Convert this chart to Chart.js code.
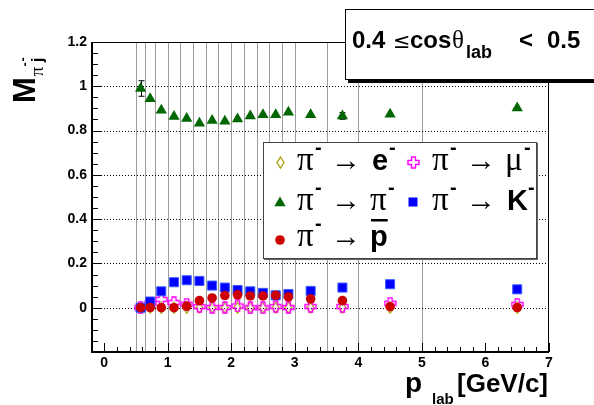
<!DOCTYPE html>
<html>
<head>
<meta charset="utf-8">
<script src="https://cdn.jsdelivr.net/npm/chart.js@4.4.0/dist/chart.umd.min.js"></script>
<style>
html, body { margin: 0; padding: 0; background: #fff; }
#wrap { width: 594px; height: 405px; position: relative; }
</style>
</head>
<body>
<div id="wrap"><canvas id="chart" width="594" height="405"></canvas></div>
<script>
// Bin centres of p_lab [GeV/c] and the bin edges drawn as grey lines
const pLab = [0.575, 0.725, 0.9, 1.1, 1.3, 1.5, 1.7, 1.9, 2.1, 2.3, 2.5, 2.7, 2.9, 3.25, 3.75, 4.5, 6.5];
const binEdges = [0.5, 0.65, 0.8, 1.0, 1.2, 1.4, 1.6, 1.8, 2.0, 2.2, 2.4, 2.6, 2.8, 3.0, 3.5, 4.0, 5.0, 8.0];

// M(pi- -> j) values
const toElectron = [0, 0, 0, 0, 0, 0, 0, 0, 0, 0, 0, 0, 0, 0, 0, 0, 0];
const toMuon     = [0, 0.02, 0.038, 0.023, 0.016, 0.005, 0.001, 0.001, 0.008, 0, 0, 0.005, 0.001, 0.005, 0.005, 0.02, 0.015];
const toPion     = [0.99, 0.944, 0.892, 0.863, 0.855, 0.833, 0.846, 0.842, 0.852, 0.866, 0.872, 0.872, 0.883, 0.872, 0.866, 0.874, 0.902];
const toPionErr  = [0.035, 0, 0, 0, 0, 0, 0, 0, 0, 0, 0, 0, 0, 0, 0.015, 0, 0];
const toKaon     = [0, 0.028, 0.074, 0.115, 0.124, 0.121, 0.10, 0.091, 0.080, 0.074, 0.067, 0.056, 0.062, 0.076, 0.091, 0.106, 0.083];
const toPbar     = [0, 0.001, 0, 0, 0.007, 0.032, 0.044, 0.055, 0.058, 0.053, 0.053, 0.056, 0.049, 0.040, 0.032, 0.005, 0.001];

const xTicks = [0, 1, 2, 3, 4, 5, 6, 7];
const yTicks = [0, 0.2, 0.4, 0.6, 0.8, 1.0, 1.2];

const COL_E = '#a89f00', COL_MU = '#ff00ff', COL_PI = '#006600', COL_K = '#0000ff', COL_PBAR = '#cc0000';
const SANS = '"Liberation Sans", Arial, sans-serif';
const SERIF = '"Liberation Serif", "DejaVu Serif", serif';

// open marker images (ROOT style open cross / open diamond)
function makeCross() {
    const c = document.createElement('canvas');
    c.width = 13; c.height = 13;
    const g = c.getContext('2d');
    const m = 6.5, a = 2, L = 5.5;
    g.strokeStyle = COL_MU; g.lineWidth = 1.4;
    g.beginPath();
    [[m-a,m-L],[m+a,m-L],[m+a,m-a],[m+L,m-a],[m+L,m+a],[m+a,m+a],[m+a,m+L],[m-a,m+L],[m-a,m+a],[m-L,m+a],[m-L,m-a],[m-a,m-a]]
        .forEach((p, i) => i ? g.lineTo(p[0], p[1]) : g.moveTo(p[0], p[1]));
    g.closePath(); g.stroke();
    return c;
}
function makeDiamond() {
    const c = document.createElement('canvas');
    c.width = 9; c.height = 13;
    const g = c.getContext('2d');
    g.strokeStyle = COL_E; g.lineWidth = 1.3;
    g.beginPath();
    g.moveTo(4.5, 1); g.lineTo(8, 6.5); g.lineTo(4.5, 12); g.lineTo(1, 6.5); g.closePath();
    g.stroke();
    return c;
}
const crossImg = makeCross();
const diamondImg = makeDiamond();

function pts(vals) {
    return pLab.map((x, i) => ({ x: x, y: vals[i] }));
}

// draws text pieces (sub/superscripts); 'at' = fixed x offset, 'w' = stretch to width
function rich(ctx, x, y, parts, angle) {
    ctx.save();
    ctx.translate(x, y);
    if (angle) ctx.rotate(angle);
    let cx = 0;
    ctx.textBaseline = 'alphabetic';
    ctx.textAlign = 'left';
    ctx.fillStyle = '#000';
    parts.forEach(p => {
        ctx.font = p.f;
        if (p.at !== undefined) cx = p.at;
        cx += p.pre || 0;
        let w = ctx.measureText(p.t).width;
        if (p.w) {
            ctx.save();
            ctx.translate(cx, 0);
            ctx.scale(p.w / w, 1);
            ctx.fillText(p.t, 0, p.dy || 0);
            ctx.restore();
            w = p.w;
        } else {
            ctx.fillText(p.t, cx, p.dy || 0);
        }
        if (p.ov) {
            ctx.fillRect(cx + 1, (p.dy || 0) + p.ov, w - 1, 2.5);
        }
        cx += w + (p.gap || 0);
    });
    ctx.restore();
}

function marker(ctx, kind, x, y) {
    ctx.save();
    if (kind === 'triangle') {
        const r = 6.5;
        ctx.fillStyle = COL_PI;
        ctx.beginPath();
        ctx.moveTo(x, y - r);
        ctx.lineTo(x + r * 0.866, y + r * 0.5);
        ctx.lineTo(x - r * 0.866, y + r * 0.5);
        ctx.closePath(); ctx.fill();
    } else if (kind === 'square') {
        ctx.fillStyle = COL_K;
        ctx.fillRect(x - 4.5, y - 4.5, 9, 9);
    } else if (kind === 'circle') {
        ctx.fillStyle = COL_PBAR;
        ctx.beginPath(); ctx.arc(x, y, 4.8, 0, Math.PI * 2); ctx.fill();
    } else {
        const img = kind === 'cross' ? crossImg : diamondImg;
        ctx.drawImage(img, Math.round(x - img.width / 2), Math.round(y - img.height / 2));
    }
    ctx.restore();
}

const F_PI = '33px ' + SERIF;
const F_B = 'bold 29px ' + SANS;
const F_SUP = 'bold 20px ' + SANS;
const F_AR = '30px ' + SERIF;

function piTo(target) {
    return [
        { t: 'π', f: F_PI, at: 0 },
        { t: '-', f: F_SUP, dy: -16, at: 18 },
        { t: '→', f: F_AR, at: 34, w: 30 }
    ].concat(target);
}

const legendEntries = [
    { kind: 'diamond', x: 280, y: 162, tx: 297, ty: 170, parts: piTo([{ t: 'e', f: F_B, at: 75 }, { t: '-', f: F_SUP, dy: -16, at: 92 }]) },
    { kind: 'cross',   x: 413, y: 162, tx: 432, ty: 170, parts: piTo([{ t: 'μ', f: F_PI, at: 73 }, { t: '-', f: F_SUP, dy: -16, at: 92 }]) },
    { kind: 'triangle', x: 280, y: 203, tx: 297, ty: 210, parts: piTo([{ t: 'π', f: F_PI, at: 73 }, { t: '-', f: F_SUP, dy: -16, at: 91 }]) },
    { kind: 'square',  x: 413, y: 202, tx: 432, ty: 210, parts: piTo([{ t: 'K', f: F_B, at: 75 }, { t: '-', f: F_SUP, dy: -16, at: 96 }]) },
    { kind: 'circle',  x: 280, y: 240, tx: 297, ty: 246, parts: piTo([{ t: 'p', f: F_B, at: 73, ov: -27 }]) }
];

const rootLook = {
    id: 'rootLook',
    beforeDatasetsDraw(chart) {
        const { ctx, chartArea: a, scales: { x, y } } = chart;
        ctx.save();
        // bin edge lines
        ctx.strokeStyle = '#9c9c9c';
        ctx.lineWidth = 1;
        binEdges.forEach(e => {
            if (e <= x.min || e >= x.max) return;
            const px = Math.round(x.getPixelForValue(e)) + 0.5;
            ctx.beginPath(); ctx.moveTo(px, a.top); ctx.lineTo(px, a.bottom); ctx.stroke();
        });
        // dotted horizontal grid
        ctx.strokeStyle = '#000';
        ctx.setLineDash([1, 2]);
        yTicks.forEach(v => {
            const py = Math.round(y.getPixelForValue(v)) + 0.5;
            ctx.beginPath(); ctx.moveTo(a.left, py); ctx.lineTo(a.right, py); ctx.stroke();
        });
        ctx.setLineDash([]);
        // error bars on pi- -> pi-
        ctx.strokeStyle = '#000';
        pLab.forEach((p, i) => {
            const e = toPionErr[i];
            if (!e) return;
            const px = Math.round(x.getPixelForValue(p)) + 0.5;
            const y1 = y.getPixelForValue(toPion[i] + e), y2 = y.getPixelForValue(toPion[i] - e);
            ctx.beginPath();
            ctx.moveTo(px, y1); ctx.lineTo(px, y2);
            ctx.moveTo(px - 3, y1); ctx.lineTo(px + 3, y1);
            ctx.moveTo(px - 3, y2); ctx.lineTo(px + 3, y2);
            ctx.stroke();
        });
        ctx.restore();
    },
    afterDatasetsDraw(chart) {
        const { ctx, chartArea: a, scales: { x, y } } = chart;
        ctx.save();
        ctx.strokeStyle = '#000';
        // minor / major ticks pointing inward
        ctx.lineWidth = 1;
        for (let k = 0; k <= 35; k++) {
            const v = k * 0.2;
            const px = Math.round(x.getPixelForValue(v)) + 0.5;
            const len = k % 5 === 0 ? 9 : 5;
            ctx.beginPath(); ctx.moveTo(px, a.bottom); ctx.lineTo(px, a.bottom - len); ctx.stroke();
        }
        for (let k = 0; k <= 28; k++) {
            const v = -0.2 + k * 0.05;
            const py = Math.round(y.getPixelForValue(v)) + 0.5;
            const len = k % 4 === 0 ? 10 : 6;
            ctx.beginPath(); ctx.moveTo(a.left, py); ctx.lineTo(a.left + len, py); ctx.stroke();
        }
        // frame
        ctx.strokeRect(a.left + 0.5, a.top + 0.5, a.right - a.left - 1, a.bottom - a.top - 1);
        ctx.lineWidth = 2;
        ctx.beginPath();
        ctx.moveTo(a.left, a.top); ctx.lineTo(a.left, a.bottom); ctx.lineTo(a.right, a.bottom);
        ctx.stroke();

        // legend box
        ctx.fillStyle = '#666';
        ctx.fillRect(264, 143, 274, 117);
        ctx.fillStyle = '#fff';
        ctx.fillRect(263, 142, 274, 117);
        ctx.lineWidth = 1;
        ctx.strokeStyle = '#444';
        ctx.strokeRect(263.5, 142.5, 273, 116);
        legendEntries.forEach(en => {
            marker(ctx, en.kind, en.x, en.y);
            rich(ctx, en.tx, en.ty, en.parts);
        });

        // title box with shadow
        ctx.fillStyle = '#000';
        ctx.fillRect(348, 12, 260, 71);
        ctx.fillStyle = '#fff';
        ctx.fillRect(345, 9, 260, 71);
        ctx.strokeStyle = '#000';
        ctx.strokeRect(345.5, 9.5, 260, 70);
        const TB = 'bold 24px ' + SANS;
        rich(ctx, 352, 48, [
            { t: '0.4', f: TB, at: 0 },
            { t: '≤', f: '21px "DejaVu Sans"', at: 41 },
            { t: 'cos', f: TB, at: 58 },
            { t: 'θ', f: '25px ' + SERIF, at: 100 },
            { t: 'lab', f: 'bold 18px ' + SANS, dy: 10, at: 114 },
            { t: '<', f: TB, at: 167 },
            { t: '0.5', f: TB, at: 195 }
        ]);

        // axis titles
        rich(ctx, 405, 392, [
            { t: 'p', f: 'bold 28px ' + SANS },
            { t: 'lab', f: 'bold 15px ' + SANS, dy: 12, pre: 10, gap: 7 },
            { t: '[GeV/c]', f: 'bold 26px ' + SANS, at: 52 }
        ]);
        rich(ctx, 35, 103, [
            { t: 'M', f: 'bold 31px ' + SANS, gap: 1 },
            { t: 'π', f: '19px ' + SERIF, dy: 8 },
            { t: '-', f: 'bold 13px ' + SANS, dy: -6 },
            { t: 'j', f: 'bold 17px ' + SANS, dy: 8 },
            { t: '-', f: 'bold 13px ' + SANS, dy: -8, pre: -4 }
        ], -Math.PI / 2);
        ctx.restore();
    }
};

const ctxMain = document.getElementById('chart').getContext('2d');
const chart = new Chart(ctxMain, {
    type: 'scatter',
    data: {
        datasets: [
            {
                label: 'π- → p̄',
                data: pts(toPbar),
                pointStyle: 'circle',
                pointRadius: 4.8,
                backgroundColor: COL_PBAR,
                borderColor: COL_PBAR,
                borderWidth: 0,
                order: 0
            },
            {
                label: 'π- → K-',
                data: pts(toKaon),
                pointStyle: 'rect',
                pointRadius: 6.4,
                backgroundColor: COL_K,
                borderColor: '#3a5cff',
                borderWidth: 1,
                order: 1
            },
            {
                label: 'π- → π-',
                data: pts(toPion),
                pointStyle: 'triangle',
                pointRadius: 6.5,
                backgroundColor: COL_PI,
                borderColor: COL_PI,
                borderWidth: 0,
                order: 2
            },
            {
                label: 'π- → μ-',
                data: pts(toMuon),
                pointStyle: crossImg,
                order: 3
            },
            {
                label: 'π- → e-',
                data: pts(toElectron),
                pointStyle: diamondImg,
                order: 4
            }
        ]
    },
    options: {
        responsive: false,
        animation: false,
        events: [],
        layout: { padding: { left: 0, top: 42, right: 45, bottom: 0 } },
        plugins: {
            legend: { display: false },
            tooltip: { enabled: false }
        },
        scales: {
            x: {
                type: 'linear',
                min: -0.19,
                max: 7,
                grid: { display: false, drawTicks: false },
                border: { display: false },
                afterBuildTicks: s => { s.ticks = xTicks.map(v => ({ value: v })); },
                afterFit: s => { s.height = 53; },
                ticks: {
                    padding: 3,
                    maxRotation: 0,
                    color: '#000',
                    font: { family: SANS, size: 14, weight: 'bold' },
                    callback: v => String(v)
                }
            },
            y: {
                type: 'linear',
                min: -0.2,
                max: 1.2,
                grid: { display: false, drawTicks: false },
                border: { display: false },
                afterBuildTicks: s => { s.ticks = yTicks.map(v => ({ value: v })); },
                afterFit: s => { s.width = 92; },
                ticks: {
                    padding: 5,
                    color: '#000',
                    font: { family: SANS, size: 14, weight: 'bold' },
                    callback: v => String(+v.toFixed(1))
                }
            }
        }
    },
    plugins: [rootLook]
});
</script>
</body>
</html>
